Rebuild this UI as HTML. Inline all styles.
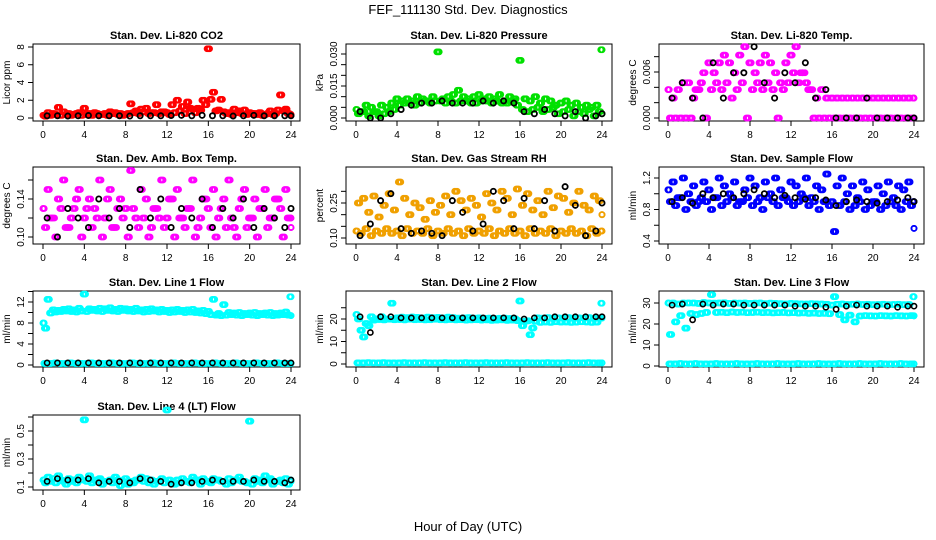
<!DOCTYPE html>
<html><head><meta charset="utf-8">
<style>
html,body{margin:0;padding:0;background:#fff;}
svg{display:block;font-family:"Liberation Sans",Arial,sans-serif;}
</style></head>
<body>
<svg id="chart" width="936" height="540" viewBox="0 0 936 540" xmlns="http://www.w3.org/2000/svg">
<text x="468" y="14" font-size="13" text-anchor="middle">FEF_111130  Std. Dev. Diagnostics</text>
<text x="468" y="531" font-size="13" text-anchor="middle">Hour of Day (UTC)</text>
</svg>
<script>
// ---- data ----
const xTicks = [0,4,8,12,16,20,24];
const co2A = [0.3,0.6,0.5,1.2,0.7,0.5,0.4,0.6,1.1,0.5,0.6,0.4,0.5,0.7,0.6,0.5,0.4,1.6,0.8,1.0,1.1,0.6,1.5,0.7,0.6,1.5,2.0,1.3,1.8,1.0,1.1,2.0,7.8,2.9,0.9,0.7,0.6,1.0,0.8,0.9,0.6,0.5,0.6,0.4,0.8,0.5,2.6,1.0,0.4];
const co2B = [0.2,0.3,0.4,0.3,0.4,0.3,0.5,0.3,0.4,0.3,0.5,0.4,0.3,0.5,0.4,0.3,0.5,0.6,0.5,0.7,0.5,0.6,0.5,0.7,0.4,0.6,0.8,0.5,1.1,0.6,0.9,1.5,2.1,0.8,2.1,0.5,0.4,0.6,0.5,0.4,0.5,0.4,0.3,0.5,0.4,0.9,0.8,0.5,0.3];
const co2K = [0.25,0.25,0.22,0.25,0.28,0.25,0.25,0.25,0.22,0.25,0.25,0.25,0.28,0.3,0.25,0.3,0.25,0.25,0.22,0.25,0.3,0.25,0.25,0.25,0.25];
const presA = [0.004,0.003,0.006,0.005,0.003,0.006,0.005,0.007,0.009,0.008,0.009,0.008,0.010,0.009,0.008,0.010,0.031,0.009,0.010,0.011,0.013,0.010,0.009,0.010,0.011,0.009,0.010,0.009,0.011,0.008,0.010,0.009,0.027,0.009,0.008,0.010,0.007,0.009,0.008,0.006,0.007,0.008,0.006,0.007,0.005,0.006,0.005,0.006,0.032];
const presB = [0.002,0.003,0.001,0.003,0.001,0.002,0.003,0.004,0.006,0.007,0.007,0.006,0.007,0.008,0.007,0.008,0.008,0.007,0.008,0.007,0.008,0.008,0.007,0.007,0.008,0.008,0.007,0.008,0.007,0.007,0.008,0.006,0.004,0.003,0.004,0.005,0.003,0.004,0.005,0.002,0.003,0.004,0.001,0.003,0.002,0.004,0.001,0.003,0.002];
const presK = [0.003,0.000,0.000,0.002,0.004,0.006,0.007,0.007,0.008,0.007,0.007,0.007,0.008,0.007,0.008,0.007,0.003,0.002,0.004,0.002,0.001,0.003,0.000,0.001,0.002];
const tempA = [0.0037,0.0026,0.0037,0.0046,0.0046,0.0026,0.0037,0.0059,0.0072,0.0059,0.0072,0.0082,0.0072,0.0059,0.0082,0.0093,0.0072,0.0059,0.0072,0.0082,0.0072,0.0059,0.0046,0.0072,0.0082,0.0093,0.0059,0.0046,0.0037,0.0026,0.0037,0.0026,0.0026,0.0026,0.0026,0.0026,0.0026,0.0026,0.0026,0.0026,0.0026,0.0026,0.0026,0.0026,0.0026,0.0026,0.0026,0.0026,0.0026];
const tempB = [0,0,0,0,0,0.0037,0.0046,0,0.0037,0.0046,0.0037,0.0046,0.0026,0.0037,0.0046,0,0.0037,0.0046,0.0037,0.0046,0.0037,0,0.0037,0.0046,0.0059,0.0046,0.0059,0.0037,0,0,0,0,0,0,0,0,0,0,0,0,0,0,0,0,0,0,0,0,0];
const tempK = [0.0026,0.0046,0.0026,0,0.0072,0.0026,0.0059,0.0059,0.0093,0.0046,0.0026,0.0059,0.0046,0.0072,0.0026,0.0037,0,0,0,0.0026,0,0,0,0,0];
const ambA = [0.13,0.15,0.12,0.14,0.16,0.11,0.13,0.15,0.12,0.14,0.13,0.16,0.12,0.15,0.11,0.14,0.13,0.17,0.12,0.15,0.14,0.11,0.13,0.16,0.12,0.14,0.15,0.12,0.13,0.16,0.11,0.14,0.13,0.15,0.12,0.14,0.16,0.11,0.13,0.15,0.12,0.14,0.13,0.15,0.12,0.14,0.13,0.15,0.12];
const ambB = [0.11,0.12,0.10,0.13,0.11,0.12,0.14,0.10,0.13,0.11,0.12,0.10,0.14,0.11,0.13,0.12,0.10,0.13,0.11,0.12,0.10,0.13,0.12,0.11,0.14,0.10,0.12,0.11,0.13,0.10,0.12,0.14,0.11,0.10,0.13,0.11,0.12,0.10,0.14,0.11,0.12,0.10,0.13,0.11,0.12,0.14,0.10,0.12,0.11];
const ambK = [0.12,0.10,0.13,0.12,0.11,0.14,0.12,0.13,0.11,0.15,0.12,0.14,0.11,0.13,0.12,0.14,0.11,0.13,0.12,0.14,0.11,0.13,0.12,0.11,0.13];
const rhA = [0.13,0.12,0.14,0.11,0.13,0.12,0.14,0.12,0.13,0.11,0.14,0.12,0.13,0.12,0.14,0.11,0.13,0.12,0.14,0.12,0.13,0.11,0.14,0.12,0.13,0.12,0.14,0.11,0.13,0.12,0.14,0.12,0.13,0.11,0.14,0.12,0.13,0.12,0.14,0.11,0.13,0.12,0.14,0.12,0.13,0.11,0.14,0.12,0.13];
const rhB = [0.25,0.27,0.21,0.28,0.19,0.24,0.29,0.22,0.34,0.27,0.20,0.25,0.23,0.18,0.26,0.21,0.24,0.28,0.20,0.30,0.26,0.22,0.27,0.24,0.19,0.29,0.25,0.22,0.30,0.27,0.20,0.31,0.24,0.29,0.22,0.26,0.20,0.30,0.23,0.28,0.27,0.21,0.25,0.30,0.24,0.22,0.28,0.26,0.20];
const rhK = [0.11,0.16,0.26,0.29,0.14,0.12,0.13,0.12,0.11,0.26,0.21,0.13,0.16,0.30,0.26,0.14,0.27,0.14,0.26,0.13,0.32,0.24,0.11,0.13,0.25];
const sfA = [1.05,1.15,0.95,1.2,1.0,1.1,0.9,1.15,1.05,0.95,1.2,1.1,1.0,1.15,0.9,1.05,1.2,1.1,0.95,1.15,1.0,1.2,1.05,0.95,1.15,1.1,1.0,1.2,0.95,1.1,1.05,1.25,0.9,1.1,1.2,1.0,1.1,0.95,1.15,1.05,0.9,1.1,1.0,1.15,0.95,1.1,1.05,1.15,0.9];
const sfB = [0.9,0.85,0.95,0.8,0.9,0.85,0.95,0.9,0.8,0.95,0.85,0.9,0.95,0.85,0.9,0.95,0.85,0.9,0.8,0.95,0.9,0.85,0.95,0.9,0.85,0.9,0.95,0.85,0.9,0.8,0.9,0.85,0.52,0.85,0.9,0.8,0.85,0.9,0.8,0.85,0.9,0.8,0.85,0.9,0.85,0.8,0.9,0.85,0.56];
const sfK = [0.9,0.95,0.88,1.0,0.95,1.0,0.95,1.0,1.05,1.0,0.95,0.98,0.95,0.93,0.95,0.92,0.85,0.9,0.92,0.9,0.88,0.9,0.92,0.95,0.9];
const l1A = [8,12.5,10.5,10.4,10.6,10.7,10.5,10.8,13.5,10.7,10.6,10.8,10.7,10.9,10.6,10.8,10.7,10.6,10.8,10.5,10.6,10.7,10.5,10.6,10.4,10.5,10.6,10.4,10.5,10.6,10.3,10.4,10.2,12.5,9.8,11.5,10.0,9.9,10.0,9.8,9.9,10.0,9.8,9.9,10.0,9.8,9.9,10.1,13];
const l1B = [7,9.9,10.1,10.2,10.3,10.2,10.1,10.3,10.2,10.4,10.3,10.2,10.4,10.3,10.2,10.4,10.3,10.2,10.3,10.1,10.2,10.3,10.1,10.2,10.0,10.1,10.2,10.0,10.1,10.0,9.9,9.8,9.6,9.5,9.4,9.5,9.6,9.5,9.4,9.6,9.5,9.4,9.6,9.5,9.4,9.5,9.6,9.5,9.4];
const l1C = [0.3,0.3,0.4,0.3,0.3,0.4,0.3,0.3,0.3,0.4,0.3,0.3,0.3,0.4,0.3,0.3,0.3,0.4,0.3,0.3,0.3,0.4,0.3,0.3,0.3,0.4,0.3,0.3,0.3,0.4,0.3,0.3,0.3,0.4,0.3,0.3,0.3,0.4,0.3,0.3,0.3,0.4,0.3,0.3,0.3,0.4,0.3,0.3,0.3];
const l1K = [0.4,0.4,0.4,0.4,0.4,0.4,0.4,0.4,0.4,0.4,0.4,0.4,0.4,0.4,0.4,0.4,0.4,0.4,0.4,0.4,0.4,0.4,0.4,0.4,0.4];
const l2A = [22,15,18,21,20,21,20,27,20.5,20.8,20.6,20.9,20.7,20.5,20.8,20.6,20.7,20.5,20.8,20.6,20.4,20.5,20.6,20.4,20.5,20.3,20.4,20.2,20.3,20.4,20.2,20.1,28,19,13,19,18.5,18.7,18.5,18.8,18.6,18.7,18.5,18.6,18.8,18.7,18.5,18.6,27];
const l2B = [20,12,17,19.5,19.8,19.6,19.9,19.7,19.8,19.6,19.9,19.7,19.8,19.6,19.7,19.9,19.7,19.6,19.8,19.6,19.7,19.5,19.6,19.7,19.5,19.6,19.4,19.5,19.6,19.4,19.5,19.3,17,19.2,16,20.5,20.4,20.6,20.3,20.5,20.4,20.6,20.3,20.5,20.4,20.6,20.3,20.5,20.4];
const l2C = [0.5,0.5,0.6,0.5,0.5,0.6,0.5,0.5,0.5,0.6,0.5,0.5,0.5,0.6,0.5,0.5,0.5,0.6,0.5,0.5,0.5,0.6,0.5,0.5,0.5,0.6,0.5,0.5,0.5,0.6,0.5,0.5,0.5,0.6,0.5,0.5,0.5,0.6,0.5,0.5,0.5,0.6,0.5,0.5,0.5,0.6,0.5,0.5,0.5];
const l2K = [21,14,21,21,20.5,20.5,20.5,20.5,20.5,20.5,20.5,20.5,20.5,20.5,20.5,20.5,20,20.5,20.5,21,21,21,21,21,21];
const l3A = [30,30,29.5,30,30,30,29.8,30.2,30,29.9,30,30.1,29.8,30,29.9,30,29.8,29.9,30,29.7,29.9,29.8,29.7,29.6,29.8,29.7,29.6,29.5,29.7,29.6,29.5,29.4,29,29.4,29.5,29.3,29.4,29.5,29.3,29.4,29.2,29.3,29.4,29.2,29.3,29.4,29.2,29.3,33];
const l3B = [15,21,24,18,25,24.5,25,25.5,34,25.5,25.6,25.4,25.7,25.5,25.6,25.4,25.5,25.6,25.4,25.5,25.3,25.4,25.5,25.3,25.4,25.2,25.3,25.1,25.2,25.0,25.1,24.9,33,24.5,22,24.2,21,23.8,24.0,23.9,23.8,24.0,23.9,23.8,24.0,23.9,23.8,24.0,23.9];
const l3C = [1,1,1.2,1,1,1.2,1,1,1,1.2,1,1,1,1.2,1,1,1,1.2,1,1,1,1.2,1,1,1,1.2,1,1,1,1.2,1,1,1,1.2,1,1,1,1.2,1,1,1,1.2,1,1,1,1.2,1,1,1];
const l3K = [29,29.5,22,29.5,29,29.5,29.5,29,29,29,29,29,28.5,28.5,28.5,28,27,28.5,29,28.5,28.5,28.5,28,28.5,28.5];
const l4A = [0.15,0.17,0.16,0.18,0.14,0.16,0.15,0.17,0.58,0.18,0.15,0.16,0.14,0.15,0.17,0.11,0.16,0.14,0.15,0.17,0.16,0.15,0.14,0.16,0.65,0.13,0.15,0.16,0.14,0.17,0.15,0.16,0.14,0.16,0.15,0.14,0.16,0.15,0.17,0.14,0.57,0.16,0.15,0.18,0.16,0.14,0.15,0.16,0.15];
const l4B = [0.13,0.14,0.13,0.15,0.12,0.14,0.13,0.15,0.14,0.13,0.15,0.12,0.14,0.13,0.15,0.14,0.12,0.13,0.15,0.14,0.13,0.12,0.14,0.13,0.15,0.12,0.13,0.14,0.13,0.15,0.12,0.14,0.13,0.15,0.14,0.12,0.13,0.15,0.14,0.13,0.12,0.14,0.13,0.15,0.12,0.14,0.13,0.12,0.14];
const l4K = [0.14,0.16,0.15,0.15,0.16,0.13,0.14,0.14,0.13,0.16,0.15,0.14,0.12,0.13,0.13,0.14,0.15,0.14,0.14,0.14,0.15,0.14,0.14,0.13,0.15];

const NS = "http://www.w3.org/2000/svg";
const svg = document.getElementById('chart');
const cols = [{l:33,r:300,x0:43,x24:291},{l:346,r:612,x0:356,x24:602},{l:659,r:924,x0:668,x24:914}];
const rows = [{t:44,b:121},{t:167,b:244},{t:291,b:367},{t:415,b:490}];

function mk(tag, attrs, parent){
  const e = document.createElementNS(NS, tag);
  for (const k in attrs) e.setAttribute(k, attrs[k]);
  (parent||svg).appendChild(e);
  return e;
}

function panel(p){
  const c = cols[p.col], rw = rows[p.row];
  const g = mk('g', {});
  
  
  const xs = h => c.x0 + (c.x24 - c.x0) * h / 24;
  const ys = v => p.ya[1] + (v - p.ya[0]) * (p.yb[1] - p.ya[1]) / (p.yb[0] - p.ya[0]);
  const box = mk('rect', {x:c.l, y:rw.t, width:c.r-c.l, height:rw.b-rw.t, fill:'none', stroke:'#000', 'stroke-width':1}, g);
  
  
  const title = mk('text', {x:(c.l+c.r)/2, y:rw.t-5, 'font-size':11, 'font-weight':'bold', 'text-anchor':'middle'}, g);
  title.textContent = p.title;
  
  
  const xa = mk('g', {}, g);
  
  
  mk('line', {x1:xs(0), x2:xs(24), y1:rw.b, y2:rw.b, stroke:'#000'}, xa);
  xTicks.forEach(t => {
    mk('line', {x1:xs(t), x2:xs(t), y1:rw.b, y2:rw.b+5, stroke:'#000'}, xa);
    const tx = mk('text', {x:xs(t), y:rw.b+17, 'font-size':10, 'text-anchor':'middle'}, xa);
    tx.textContent = t;
  });
  const ya = mk('g', {}, g);
  
  
  mk('line', {x1:c.l, x2:c.l, y1:ys(p.ticks[0]), y2:ys(p.ticks[p.ticks.length-1]), stroke:'#000'}, ya);
  p.ticks.forEach(t => {
    mk('line', {x1:c.l-5, x2:c.l, y1:ys(t), y2:ys(t), stroke:'#000'}, ya);
  });
  p.labels.forEach(t => {
    const X = c.l-9, Y = ys(t);
    const tx = mk('text', {x:X, y:Y, 'font-size':10, 'text-anchor':'middle', transform:`rotate(-90 ${X} ${Y})`}, ya);
    tx.textContent = t.toFixed(p.dec);
  });
  const yt = mk('text', {x:c.l-23, y:(rw.t+rw.b)/2, 'font-size':10, 'text-anchor':'middle', transform:`rotate(-90 ${c.l-23} ${(rw.t+rw.b)/2})`}, g);
  yt.textContent = p.ylab;
  
  
  p.series.forEach(s => {
    const sg = mk('g', {fill:'none', stroke:s.color, 'stroke-width':s.sw||1.6}, g);
    
    
    const step = 24 / (s.vals.length - 1);
    const reps = s.dense ? [0, 0.12, -0.12] : [0];
    s.vals.forEach((v, i) => {
      reps.forEach(d => {
        const h = Math.max(0, Math.min(24, i * step + (s.off||0) + d));
        const pt = mk('circle', {cx:xs(h), cy:ys(v), r:s.r||2.6}, sg);
        
        
      });
    });
  });
}

const BLK = '#000';
panel({name:'co2', title:'Stan. Dev. Li-820 CO2', col:0,row:0, ya:[0,118], yb:[8,47], ticks:[0,2,4,6,8], labels:[0,2,4,6,8], dec:0, ylab:'Licor ppm',
  series:[{id:'red-a',color:'#ff0000',vals:co2A,dense:1},{id:'red-b',color:'#ff0000',vals:co2B,off:0.25,dense:1},{id:'black',color:BLK,vals:co2K,off:0.4,sw:1.8}]});
panel({name:'pressure', title:'Stan. Dev. Li-820 Pressure', col:1,row:0, ya:[0,118], yb:[0.03,54], ticks:[0,0.005,0.01,0.015,0.02,0.025,0.03], labels:[0,0.015,0.03], dec:3, ylab:'kPa',
  series:[{id:'green-a',color:'#00e000',vals:presA,dense:1},{id:'green-b',color:'#00e000',vals:presB,off:0.25,dense:1},{id:'black',color:BLK,vals:presK,off:0.4,sw:1.8}]});
panel({name:'li820-temp', title:'Stan. Dev. Li-820 Temp.', col:2,row:0, ya:[0,118], yb:[0.006,72], ticks:[0,0.002,0.004,0.006,0.008], labels:[0,0.006], dec:3, ylab:'degrees C',
  series:[{id:'magenta-a',color:'#ff00ff',vals:tempA,dense:1},{id:'magenta-b',color:'#ff00ff',vals:tempB,off:0.25,dense:1},{id:'black',color:BLK,vals:tempK,off:0.4,sw:1.8}]});
panel({name:'amb-box-temp', title:'Stan. Dev. Amb. Box Temp.', col:0,row:1, ya:[0.10,237], yb:[0.14,199], ticks:[0.10,0.12,0.14,0.16], labels:[0.10,0.14], dec:2, ylab:'degrees C',
  series:[{id:'magenta-a',color:'#ff00ff',vals:ambA,dense:1},{id:'magenta-b',color:'#ff00ff',vals:ambB,off:0.25,dense:1},{id:'black',color:BLK,vals:ambK,off:0.4,sw:1.8}]});
panel({name:'gas-rh', title:'Stan. Dev. Gas Stream RH', col:1,row:1, ya:[0.10,238], yb:[0.25,203], ticks:[0.10,0.15,0.20,0.25,0.30], labels:[0.10,0.25], dec:2, ylab:'percent',
  series:[{id:'orange-a',color:'#f0a000',vals:rhA,dense:1},{id:'orange-b',color:'#f0a000',vals:rhB,off:0.25,dense:1},{id:'black',color:BLK,vals:rhK,off:0.4,sw:1.8}]});
panel({name:'sample-flow', title:'Stan. Dev. Sample Flow', col:2,row:1, ya:[0.4,241], yb:[1.2,178], ticks:[0.4,0.6,0.8,1.0,1.2], labels:[0.4,0.8,1.2], dec:1, ylab:'ml/min',
  series:[{id:'blue-a',color:'#0000ff',vals:sfA,dense:1},{id:'blue-b',color:'#0000ff',vals:sfB,off:0.25,dense:1},{id:'black',color:BLK,vals:sfK,off:0.4,sw:1.8}]});
panel({name:'line1-flow', title:'Stan. Dev. Line 1 Flow', col:0,row:2, ya:[0,365], yb:[12,302], ticks:[0,2,4,6,8,10,12,14], labels:[0,4,8,12], dec:0, ylab:'ml/min',
  series:[{id:'cyan-a',color:'#00ffff',vals:l1A,dense:1},{id:'cyan-b',color:'#00ffff',vals:l1B,off:0.25,dense:1},{id:'cyan-base',color:'#00ffff',vals:l1C,off:0.2,dense:1},{id:'black',color:BLK,vals:l1K,off:0.4,sw:1.6}]});
panel({name:'line2-flow', title:'Stan. Dev. Line 2 Flow', col:1,row:2, ya:[0,364], yb:[20,319], ticks:[0,5,10,15,20,25], labels:[0,10,20], dec:0, ylab:'ml/min',
  series:[{id:'cyan-a',color:'#00ffff',vals:l2A,dense:1},{id:'cyan-b',color:'#00ffff',vals:l2B,off:0.25,dense:1},{id:'cyan-base',color:'#00ffff',vals:l2C,off:0.2,dense:1},{id:'black',color:BLK,vals:l2K,off:0.4,sw:1.6}]});
panel({name:'line3-flow', title:'Stan. Dev. Line 3 Flow', col:2,row:2, ya:[0,366], yb:[30,303], ticks:[0,10,20,30], labels:[0,10,20,30], dec:0, ylab:'ml/min',
  series:[{id:'cyan-a',color:'#00ffff',vals:l3A,dense:1},{id:'cyan-b',color:'#00ffff',vals:l3B,off:0.25,dense:1},{id:'cyan-base',color:'#00ffff',vals:l3C,off:0.2,dense:1},{id:'black',color:BLK,vals:l3K,off:0.4,sw:1.6}]});
panel({name:'line4-flow', title:'Stan. Dev. Line 4 (LT) Flow', col:0,row:3, ya:[0.1,487], yb:[0.5,431], ticks:[0.1,0.2,0.3,0.4,0.5,0.6], labels:[0.1,0.3,0.5], dec:1, ylab:'ml/min',
  series:[{id:'cyan-a',color:'#00ffff',vals:l4A,dense:1},{id:'cyan-b',color:'#00ffff',vals:l4B,off:0.25,dense:1},{id:'black',color:BLK,vals:l4K,off:0.4,sw:1.6}]});
</script>
</body></html>
